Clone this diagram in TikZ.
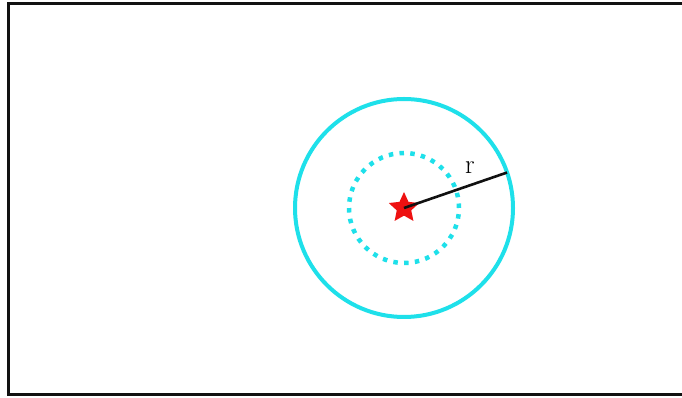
\documentclass[tikz,border=0pt]{standalone}
\usepackage{tikz}
\usepackage{xcolor}
\usetikzlibrary{shapes.geometric,positioning,calc}
\definecolor{orbitcyan}{HTML}{1EE0EA}
\definecolor{starred}{HTML}{EE1111}
\definecolor{ink}{HTML}{111111}
\tikzset{
  framebox/.style={draw=ink,line width=3.5pt},
  orbit/.style={draw=orbitcyan,line width=4pt},
  innerorbit/.style={draw=orbitcyan,line width=4.5pt,dash pattern=on 4.5pt off 6.3pt},
  sunstar/.style={star,star points=5,star point ratio=2.1,fill=starred,draw=none,
                  minimum size=32pt,inner sep=0pt},
  radline/.style={draw=ink,line width=2.6pt}
}
\begin{document}
\begin{tikzpicture}[x=1pt,y=1pt]
      \useasboundingbox (0,0) rectangle (682,398);
      \fill[white] (0,0) rectangle (682,398);
      % frame, open on the right
      \draw[framebox] (682,394.5) -- (8.5,394.5) -- (8.5,3.5) -- (682,3.5);
      \coordinate (ctr) at (404,190);
      \draw[orbit] (ctr) circle (109);
      \draw[innerorbit] (ctr) circle (55);
      \node[sunstar] (sun) at (ctr) {};
      \coordinate (rim) at ($(ctr)+(19:109)$);
      \draw[radline] (sun.center) -- (rim);
      \node[font=\fontsize{27}{30}\selectfont,inner sep=0pt] (rlab) at (470,230) {r};
    \end{tikzpicture}
\end{document}
